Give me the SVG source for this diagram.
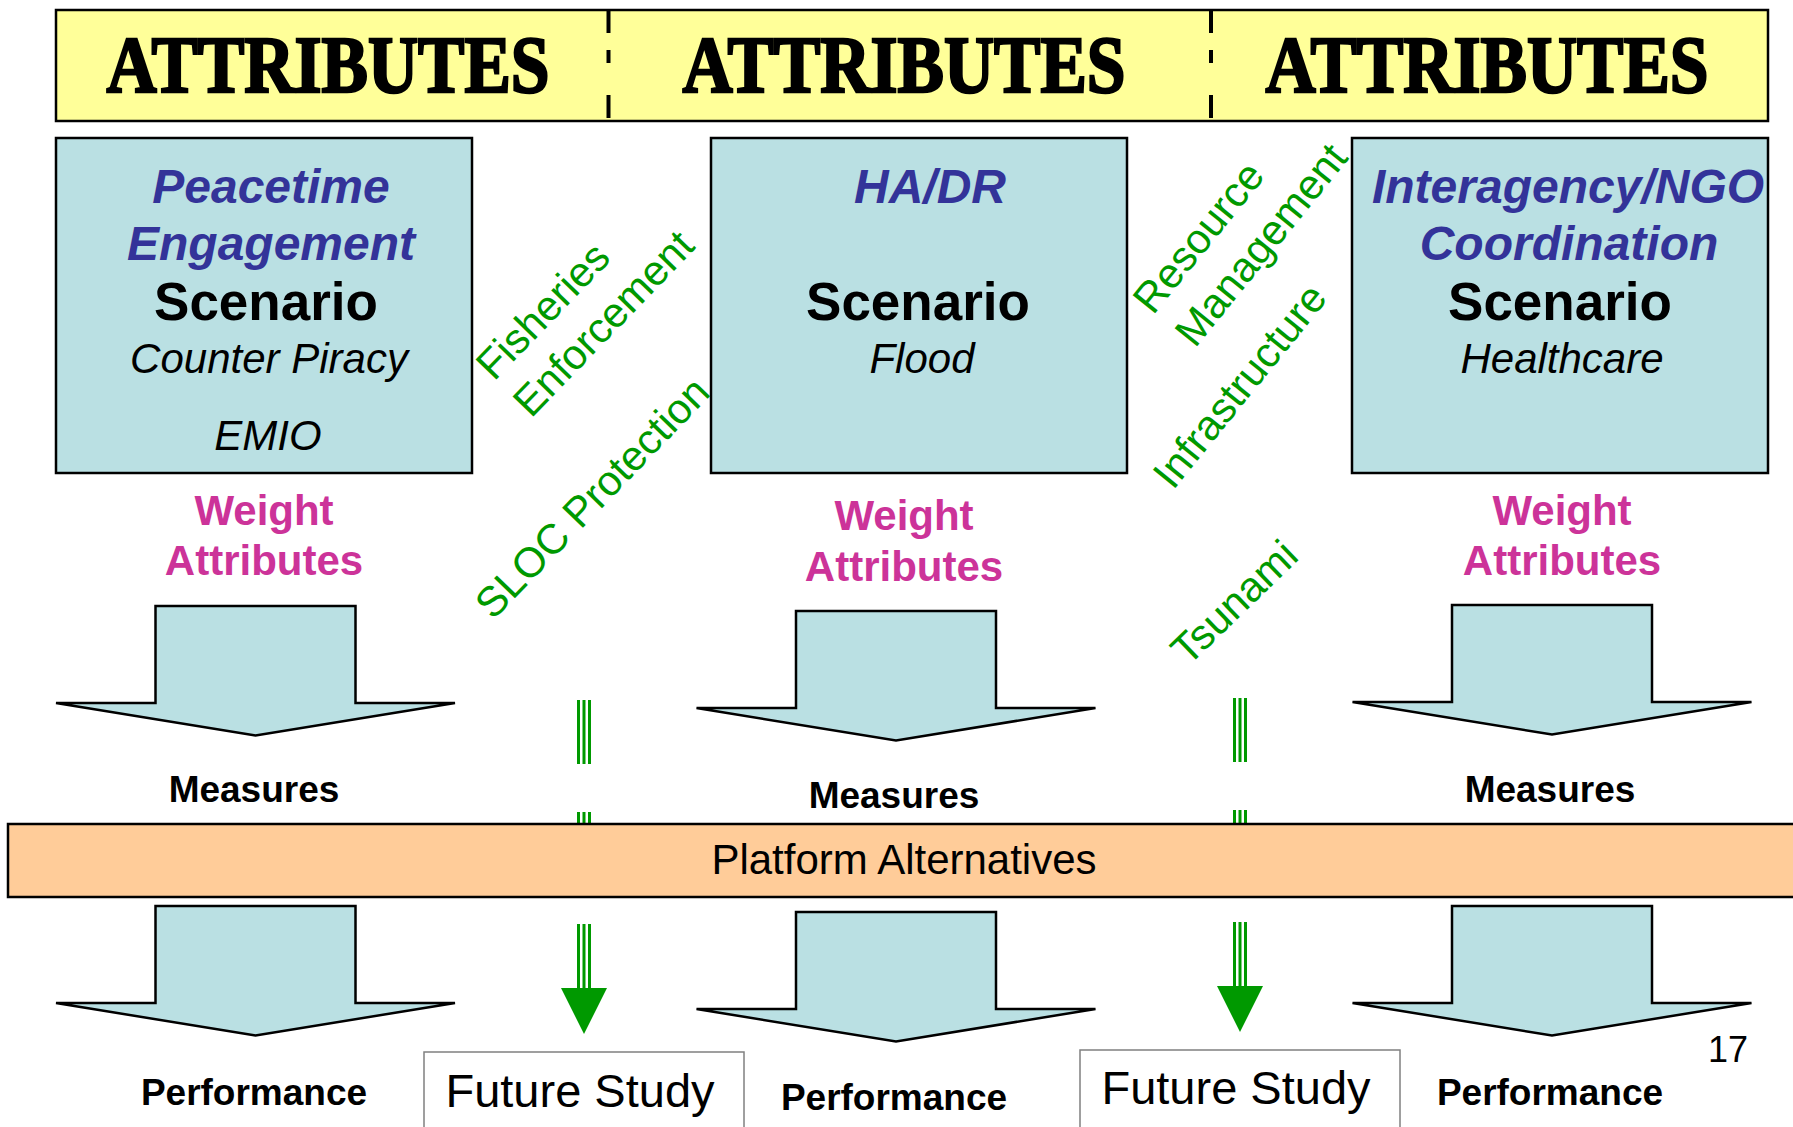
<svg xmlns="http://www.w3.org/2000/svg" xmlns:xlink="http://www.w3.org/1999/xlink" width="1793" height="1127" viewBox="0 0 1793 1127">
<style>
  .stencil { font-family: "Liberation Serif", "DejaVu Serif", serif; font-weight: bold; font-size: 80px; fill: #000; stroke: #000; stroke-width: 2.5; text-anchor: middle; }
  .box { fill: #BAE0E3; stroke: #000; stroke-width: 2.5; }
  .arrow { fill: #BAE0E3; stroke: #000; stroke-width: 2.5; stroke-linejoin: miter; }
  .t { font-family: "Liberation Sans", Arial, sans-serif; text-anchor: middle; }
  .title { font-size: 48px; font-weight: bold; font-style: italic; fill: #333399; }
  .scen { font-size: 53px; font-weight: bold; fill: #000; }
  .sub { font-size: 42px; font-style: italic; fill: #000; }
  .weight { font-size: 42px; font-weight: bold; fill: #CC3399; }
  .lbl { font-size: 37px; font-weight: bold; fill: #000; }
  .green { font-family: "Liberation Sans", Arial, sans-serif; font-size: 42px; fill: #009900; }
  .fs { fill: #fff; stroke: #808080; stroke-width: 1.5; }
  .dash { stroke: #009900; stroke-width: 3; stroke-dasharray: 64 48; fill: none; }
</style>
<defs>
  <path id="blk" class="arrow" d="M0,0 H200 V97 H299.5 L100,129.5 L-99.5,97 H0 Z"/>
</defs>
<rect width="1793" height="1127" fill="#fff"/>

<g id="header">
  <rect x="56" y="10" width="1712" height="111" fill="#FFFF99" stroke="#000" stroke-width="2.5"/>
  <g stroke="#000" stroke-width="4">
    <line x1="608.5" y1="10" x2="608.5" y2="33"/>
    <line x1="608.5" y1="50" x2="608.5" y2="63"/>
    <line x1="608.5" y1="95" x2="608.5" y2="118"/>
    <line x1="1211" y1="10" x2="1211" y2="33"/>
    <line x1="1211" y1="50" x2="1211" y2="63"/>
    <line x1="1211" y1="95" x2="1211" y2="118"/>
  </g>
  <text class="stencil" x="328" y="92" textLength="443" lengthAdjust="spacingAndGlyphs">ATTRIBUTES</text>
  <text class="stencil" x="904" y="92" textLength="443" lengthAdjust="spacingAndGlyphs">ATTRIBUTES</text>
  <text class="stencil" x="1487" y="92" textLength="443" lengthAdjust="spacingAndGlyphs">ATTRIBUTES</text>
</g>

<g id="connectors">
  <line class="dash" x1="578.5" y1="700" x2="578.5" y2="988"/>
  <line class="dash" x1="584" y1="700" x2="584" y2="988"/>
  <line class="dash" x1="589.5" y1="700" x2="589.5" y2="988"/>
  <polygon points="561,988 607,988 584,1034" fill="#009900"/>
  <line class="dash" x1="1234.5" y1="698" x2="1234.5" y2="986"/>
  <line class="dash" x1="1240" y1="698" x2="1240" y2="986"/>
  <line class="dash" x1="1245.5" y1="698" x2="1245.5" y2="986"/>
  <polygon points="1217,986 1263,986 1240,1032" fill="#009900"/>
</g>

<g id="scenario-peacetime">
  <rect class="box" x="56" y="138" width="416" height="335"/>
  <text class="t title" x="271" y="203">Peacetime</text>
  <text class="t title" x="271" y="260">Engagement</text>
  <text class="t scen" x="266" y="320">Scenario</text>
  <text class="t sub" x="269" y="373">Counter Piracy</text>
  <text class="t sub" x="268" y="450">EMIO</text>
</g>
<g id="scenario-hadr">
  <rect class="box" x="711" y="138" width="416" height="335"/>
  <text class="t title" x="930" y="203">HA/DR</text>
  <text class="t scen" x="918" y="320">Scenario</text>
  <text class="t sub" x="922" y="373">Flood</text>
</g>
<g id="scenario-interagency">
  <rect class="box" x="1352" y="138" width="416" height="335"/>
  <text class="t title" x="1568" y="203">Interagency/NGO</text>
  <text class="t title" x="1569" y="260">Coordination</text>
  <text class="t scen" x="1560" y="320">Scenario</text>
  <text class="t sub" x="1562" y="373">Healthcare</text>
</g>

<g id="weights">
  <text class="t weight" x="264" y="525">Weight</text>
  <text class="t weight" x="264" y="575">Attributes</text>
  <text class="t weight" x="904" y="530">Weight</text>
  <text class="t weight" x="904" y="581">Attributes</text>
  <text class="t weight" x="1562" y="525">Weight</text>
  <text class="t weight" x="1562" y="575">Attributes</text>
</g>

<g id="green-labels" class="green">
  <text transform="translate(494,382) rotate(-46)">Fisheries</text>
  <text transform="translate(531,419) rotate(-46)">Enforcement</text>
  <text transform="translate(493,621) rotate(-46)">SLOC Protection</text>
  <text transform="translate(1153,316) rotate(-51)">Resource</text>
  <text transform="translate(1195,349) rotate(-51)">Management</text>
  <text transform="translate(1173,491) rotate(-51)">Infrastructure</text>
  <text transform="translate(1188,667) rotate(-44)">Tsunami</text>
</g>

<g id="measure-arrows">
  <use xlink:href="#blk" href="#blk" transform="translate(155.5,606)"/>
  <use xlink:href="#blk" href="#blk" transform="translate(796,611)"/>
  <use xlink:href="#blk" href="#blk" transform="translate(1452,605)"/>
  <text class="t lbl" x="254" y="802">Measures</text>
  <text class="t lbl" x="894" y="808">Measures</text>
  <text class="t lbl" x="1550" y="802">Measures</text>
</g>

<g id="platform">
  <rect x="8" y="824" width="1800" height="73" fill="#FFCC99" stroke="#000" stroke-width="2.5"/>
  <text class="t" x="904" y="874" font-size="42" fill="#000">Platform Alternatives</text>
</g>

<g id="performance-arrows">
  <use xlink:href="#blk" href="#blk" transform="translate(155.5,906)"/>
  <use xlink:href="#blk" href="#blk" transform="translate(796,912)"/>
  <use xlink:href="#blk" href="#blk" transform="translate(1452,906)"/>
  <text class="t lbl" x="254" y="1105">Performance</text>
  <text class="t lbl" x="894" y="1110">Performance</text>
  <text class="t lbl" x="1550" y="1105">Performance</text>
</g>

<g id="future-study-1">
  <rect class="fs" x="424" y="1052" width="320" height="90"/>
  <text class="t" x="580" y="1107" font-size="47" fill="#000">Future Study</text>
</g>
<g id="future-study-2">
  <rect class="fs" x="1080" y="1050" width="320" height="92"/>
  <text class="t" x="1236" y="1104" font-size="47" fill="#000">Future Study</text>
</g>

<text id="page-number" class="t" x="1728" y="1062" font-size="36" fill="#000">17</text>
</svg>
